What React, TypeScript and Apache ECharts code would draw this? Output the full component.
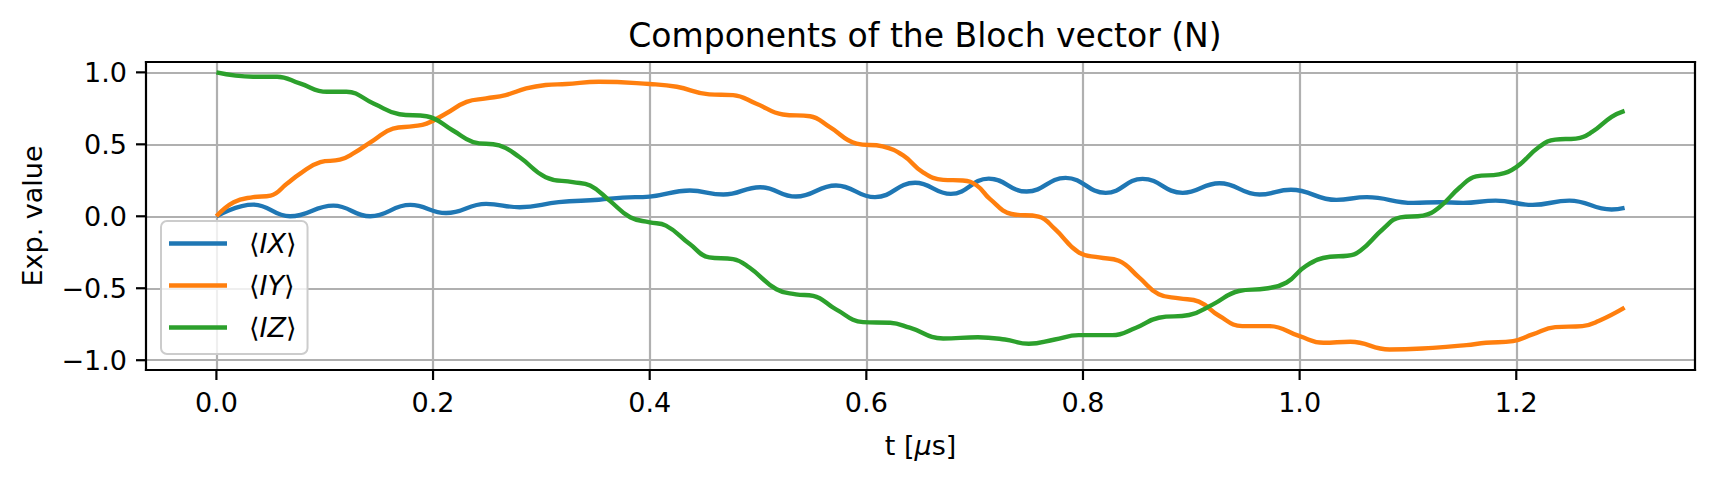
import React, { useEffect, useRef } from "react";
import * as echarts from "echarts";

const title = "Components of the Bloch vector (N)";
const xTicks = [0, 0.2, 0.4, 0.6, 0.8, 1.0, 1.2];
const yTicks = [-1.0, -0.5, 0.0, 0.5, 1.0];
const seriesNames = ["IX", "IY", "IZ"];
const seriesColors = ["#1f77b4", "#ff7f0e", "#2ca02c"];

const ixPoints = [
  [0, 0], [0.034, 0.081], [0.068, 0.0], [0.108, 0.074], [0.142, 0.0], [0.179, 0.079],
  [0.212, 0.023], [0.249, 0.086], [0.28, 0.063], [0.316, 0.098], [0.353, 0.115],
  [0.375, 0.13], [0.4, 0.137], [0.437, 0.179], [0.468, 0.151], [0.502, 0.202],
  [0.535, 0.137], [0.572, 0.214], [0.608, 0.133], [0.645, 0.233], [0.678, 0.156],
  [0.713, 0.262], [0.748, 0.172], [0.784, 0.267], [0.821, 0.163], [0.855, 0.26],
  [0.892, 0.163], [0.926, 0.23], [0.963, 0.151], [0.992, 0.184], [1.034, 0.114],
  [1.062, 0.133], [1.105, 0.093], [1.129, 0.098], [1.151, 0.093], [1.181, 0.109],
  [1.215, 0.079], [1.249, 0.109], [1.288, 0.047], [1.3, 0.058],
];

const iyPoints = [
  [0, 0], [0.016, 0.098], [0.034, 0.133], [0.05, 0.144], [0.065, 0.226], [0.077, 0.295],
  [0.096, 0.377], [0.114, 0.393], [0.126, 0.435], [0.145, 0.528], [0.163, 0.609],
  [0.182, 0.626], [0.194, 0.644], [0.212, 0.714], [0.231, 0.795], [0.249, 0.819],
  [0.267, 0.842], [0.286, 0.888], [0.304, 0.912], [0.323, 0.919], [0.353, 0.935],
  [0.4, 0.919], [0.425, 0.9], [0.455, 0.847], [0.477, 0.842], [0.498, 0.784],
  [0.523, 0.707], [0.548, 0.695], [0.566, 0.621], [0.591, 0.505], [0.615, 0.486],
  [0.634, 0.423], [0.652, 0.307], [0.671, 0.253], [0.689, 0.249], [0.702, 0.214],
  [0.714, 0.121], [0.734, 0.016], [0.759, -0.002], [0.774, -0.088], [0.796, -0.251],
  [0.815, -0.286], [0.833, -0.309], [0.852, -0.426], [0.87, -0.542], [0.889, -0.57],
  [0.907, -0.593], [0.926, -0.693], [0.947, -0.763], [0.972, -0.763], [1.0, -0.833],
  [1.022, -0.879], [1.047, -0.872], [1.083, -0.926], [1.123, -0.914], [1.154, -0.895],
  [1.172, -0.879], [1.197, -0.867], [1.215, -0.821], [1.236, -0.77], [1.261, -0.763],
  [1.276, -0.728], [1.3, -0.635],
];

const izPoints = [
  [0, 1.0], [0.034, 0.97], [0.056, 0.97], [0.077, 0.923], [0.102, 0.865], [0.12, 0.865],
  [0.145, 0.784], [0.169, 0.709], [0.194, 0.695], [0.218, 0.598], [0.237, 0.516],
  [0.261, 0.493], [0.28, 0.41], [0.304, 0.272], [0.329, 0.237], [0.345, 0.214],
  [0.363, 0.109], [0.382, -0.007], [0.4, -0.042], [0.415, -0.065], [0.437, -0.193],
  [0.455, -0.286], [0.477, -0.298], [0.492, -0.356], [0.517, -0.507], [0.535, -0.542],
  [0.551, -0.553], [0.572, -0.647], [0.597, -0.735], [0.622, -0.74], [0.64, -0.774],
  [0.671, -0.849], [0.703, -0.84], [0.728, -0.856], [0.75, -0.886], [0.774, -0.856],
  [0.796, -0.826], [0.827, -0.826], [0.849, -0.774], [0.87, -0.705], [0.898, -0.686],
  [0.92, -0.612], [0.944, -0.519], [0.969, -0.502], [0.988, -0.46], [1.006, -0.344],
  [1.028, -0.281], [1.044, -0.274], [1.056, -0.24], [1.077, -0.088], [1.093, -0.007],
  [1.114, 0.005], [1.129, 0.063], [1.148, 0.202], [1.163, 0.277], [1.184, 0.291],
  [1.2, 0.342], [1.221, 0.481], [1.236, 0.533], [1.255, 0.54], [1.27, 0.586],
  [1.288, 0.691], [1.3, 0.733],
];

const allPoints = [ixPoints, iyPoints, izPoints];

const X_MIN = -0.065;
const X_MAX = 1.365;
const Y_MIN = -1.068;
const Y_MAX = 1.072;

const FONT = "DejaVu Sans";
const TICK_LEN = 10;

function fmtTick(v: number) {
  const s = Math.abs(v).toFixed(1);
  return v < 0 ? "\u2212" + s : s;
}

export default function App() {
  const ref = useRef<HTMLDivElement>(null);
  useEffect(() => {
    if (!ref.current) return;
    const chart = echarts.init(ref.current, null, { renderer: "svg" });
    const spine = { show: true, onZero: false, lineStyle: { color: "#000", width: 2.2, cap: "square" } };
    const labelStyle = { margin: 19, fontFamily: FONT, fontSize: 27, color: "#000" };
    const gridLine = { show: true, lineStyle: { color: "#b0b0b0", width: 2.2 } };
    chart.setOption({
      animation: false,
      backgroundColor: "#fff",
      textStyle: { fontFamily: FONT },
      title: {
        text: title,
        left: 920,
        top: 14,
        textAlign: "center",
        textStyle: { fontFamily: FONT, fontSize: 33, fontWeight: "normal", color: "#000" },
      },
      legend: {
        orient: "vertical",
        left: 161,
        top: 221,
        icon: "rect",
        itemWidth: 58,
        itemHeight: 4.4,
        itemGap: 15,
        padding: [9, 11, 13, 8],
        backgroundColor: "rgba(255,255,255,0.8)",
        borderColor: "#cccccc",
        borderWidth: 2,
        borderRadius: 6,
        z: 20,
        data: seriesNames,
        formatter: (name: string) => "\u27e8{it|" + name + "}\u27e9",
        textStyle: {
          fontFamily: FONT,
          fontSize: 27,
          color: "#000",
          padding: [0, 0, 0, 17],
          rich: { it: { fontFamily: FONT, fontSize: 27, fontStyle: "italic", color: "#000" } },
        },
      },
      grid: { left: 146, right: 21, top: 62, bottom: 111, show: false },
      xAxis: [
        {
          type: "value",
          position: "bottom",
          min: X_MIN,
          max: X_MAX,
          name: "t [{mu|\u03bc}s]",
          nameLocation: "middle",
          nameGap: 62,
          nameTextStyle: {
            fontFamily: FONT,
            fontSize: 27,
            color: "#000",
            rich: { mu: { fontFamily: FONT, fontSize: 27, fontStyle: "italic", color: "#000" } },
          },
          axisLine: spine,
          axisTick: { show: false, customValues: xTicks },
          axisLabel: { ...labelStyle, customValues: xTicks, formatter: (v: number) => fmtTick(v) },
          splitLine: gridLine,
        },
        {
          type: "value",
          position: "top",
          min: X_MIN,
          max: X_MAX,
          axisLine: spine,
          axisTick: { show: false },
          axisLabel: { show: false },
          splitLine: { show: false },
        },
      ],
      yAxis: [
        {
          type: "value",
          position: "left",
          min: Y_MIN,
          max: Y_MAX,
          name: "Exp. value",
          nameLocation: "middle",
          nameGap: 100,
          nameTextStyle: { fontFamily: FONT, fontSize: 27, color: "#000" },
          axisLine: spine,
          axisTick: { show: false, customValues: yTicks },
          axisLabel: { ...labelStyle, customValues: yTicks, formatter: (v: number) => fmtTick(v) },
          splitLine: gridLine,
        },
        {
          type: "value",
          position: "right",
          min: Y_MIN,
          max: Y_MAX,
          axisLine: spine,
          axisTick: { show: false },
          axisLabel: { show: false },
          splitLine: { show: false },
        },
      ],
      series: seriesNames.map((n, i) => ({
        name: n,
        type: "line",
        data: allPoints[i],
        symbol: "none",
        smooth: 0.45,
        lineStyle: { color: seriesColors[i], width: 4.4 },
        itemStyle: { color: seriesColors[i] },
      })),
    });

    // outward tick marks, placed through the chart's own scales
    const tickEls: any[] = [];
    const toPx = (pt: number[]) => chart.convertToPixel({ seriesIndex: 0 }, pt) as number[];
    xTicks.forEach((v) => {
      const p = toPx([v, Y_MIN]);
      if (!p || !isFinite(p[0]) || !isFinite(p[1])) return;
      tickEls.push({
        type: "line",
        silent: true,
        z: 30,
        shape: { x1: p[0], y1: p[1], x2: p[0], y2: p[1] + TICK_LEN },
        style: { stroke: "#000", lineWidth: 2.2 },
      });
    });
    yTicks.forEach((v) => {
      const p = toPx([X_MIN, v]);
      if (!p || !isFinite(p[0]) || !isFinite(p[1])) return;
      tickEls.push({
        type: "line",
        silent: true,
        z: 30,
        shape: { x1: p[0] - TICK_LEN, y1: p[1], x2: p[0], y2: p[1] },
        style: { stroke: "#000", lineWidth: 2.2 },
      });
    });
    chart.setOption({ graphic: tickEls });

    return () => chart.dispose();
  }, []);
  return (
    <div
      ref={ref}
      style={{ position: "fixed", left: 0, top: 0, width: 1716, height: 481, background: "#fff" }}
    />
  );
}
